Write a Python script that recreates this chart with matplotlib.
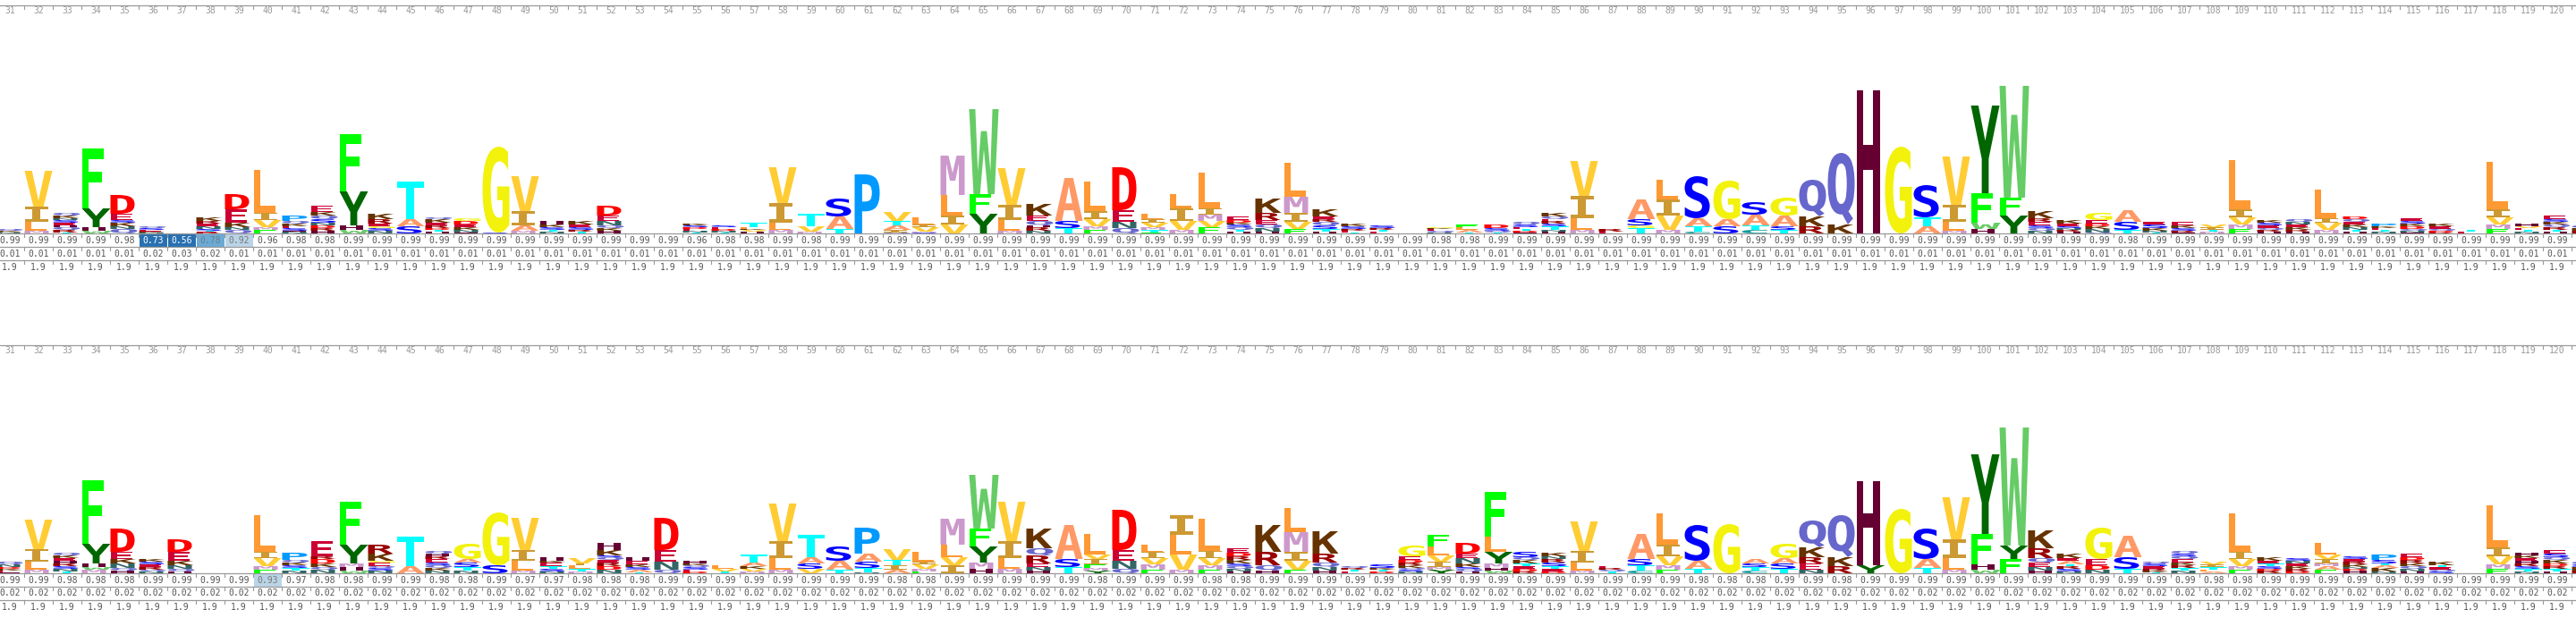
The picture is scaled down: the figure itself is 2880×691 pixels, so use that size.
import matplotlib
matplotlib.use("Agg")
import matplotlib.pyplot as plt
from matplotlib.font_manager import FontProperties
from matplotlib.textpath import TextPath
from matplotlib.patches import PathPatch, Rectangle
from matplotlib.transforms import Affine2D

# model positions shown in the window (121 is cut by the right edge)
positions = list(range(31, 122))
last_labelled = 120

# letter stacks, bottom to top, "letter + height in px"
top_logo = [
    "N1.5 K1.5 Q2", "M3 L10 I17 V40", "T1 R3 Q3 H2 E3 S3 N2 K3 Q3", "W3 H4 Y21 F67",
    "Q5 N3 K4 S3 E7 D21", "N1 K1.5 E1.5 S2 Q2", "", "R1 E1 T1 S2 N3 E3 R3 K4",
    "Q4 N3 K5 E15 D17", "F4 M3 V8 I8 L48", "N2 H1 S3 E2 K3 Q3 P6", "H3 R3 D3 N3 S4 Q4 K4 E7",
    "W4 H5 Y38 F64", "N3 S3 G2 E3 R5 K6", "S8 A8 T42", "H2 T2 D2 R3 E3 K4 Q2",
    "H1 N3 K3 E3 D4 G3", "S1 G96", "M3 A6 I16 V39", "N2 T2 S3 K3 H4",
    "T2 R2 S3 E3 K4", "H3 K3 Q3 N5 E6 D11", "", "",
    "T1 N2 E2 D2 S2 K2", "T1 N2 D2 E2 S2", "H2 V2 K1 L2 T5", "M4 L8 I22 V40",
    "M2 V6 T14", "T5 A14 S20", "P66", "Q1 I3 A5 T5 V10",
    "S1 M1 V5 I3 L8", "V10 I10 L23 M44", "Y22 F22 W95", "M3 L12 I17 V41",
    "N3 R4 H2 Q5 E6 K13", "T6 S8 A48", "F4 M4 V8 I9 L33", "Q6 N7 E13 D48",
    "F1 T3 M3 V5 I4 L6", "M4 V10 I14 L16", "F7 V7 M7 I7 L40", "H2 T2 Q3 S3 K2 D3 E4",
    "H2 N4 Q4 E5 R8 K16", "F5 V8 I10 M18 L38", "H2 T3 S4 Q4 R3 E3 K8", "T1 E2 R2 S3 K3",
    "E2 T2 R2 S3", "", "N1 Q2 E2 K1 G1", "T1 A3 L3 F3",
    "T1 Q2 S3 D4", "H1 D2 T2 E2 S3 Q3", "H2 N2 T4 S3 R3 E2 Q3 K4", "M4 L13 I25 V39",
    "E2 R3", "T6 G3 S7 A22", "M4 V16 I18 L22", "C2 T6 A9 S47",
    "S8 A8 G43", "C4 T5 A12 S14", "T4 S4 A12 G20", "R8 K11 Q41",
    "K10 Q80", "H160", "G97", "A8 T10 S36",
    "M3 L10 I19 V54", "H5 W7 F33 Y98", "Y20 F20 W125", "N3 Q3 S3 E4 R4 K8",
    "H2 R2 N2 S2 E3 K4", "Q1 N4 K3 D3 E4 G8", "T4 S9 A13", "T1 N2 K3 S4 E3",
    "H1 R2 S3 K3 E4", "M2 T2 I3 V3", "F5 M5 V8 I9 L55", "H2 R2 Q2 E3 S3 K3",
    "H2 R2 K3 E3 N3 Q3", "M4 V8 I5 L32", "H2 T2 N3 K3 E3 Q3 D3", "N2 T2 E2 K2 P3",
    "H1 N2 Q2 D3 K3 S3 E3", "R1 D2 Q2 E3 K3", "E2 T2", "F5 M5 V8 I9 L53",
    "N2 T2 E2 V2 H3", "H2 T2 R3 Q3 K3 S3 E4", "R3 K3 Q3",
]

bottom_logo = [
    "H1 E2 K2 D2 N3 Q3", "M4 L9 I14 V33", "T2 N3 S3 R3 H3 E3 K3 Q3", "M4 W3 H4 Y22 F71",
    "H3 Q3 N5 K5 E8 D26", "N2 Q2 R3 E3 S3 K3", "H2 Q3 N4 K5 E10 D14", "",
    "", "F4 M4 V9 I7 L41", "N3 T3 S3 K3 Q3 P8", "N4 Q3 K4 D5 R3 E17",
    "W3 H4 M4 Y21 F48", "N3 S3 Q2 E4 G2 K8 R10", "A8 T33", "N3 K3 Q3 S3 E4 R3 H3 Q3",
    "N3 T4 S5 A4 G17", "S9 G59", "M3 L11 I12 V36", "N2 S3 T3 E4 K2 H4",
    "M2 T3 L4 I2 V6", "N4 D4 R4 E3 Q3 S2 K6 H8", "T1 A3 S3 K3 E4 H4", "Q4 N9 E13 D36",
    "D2 E2 S3 Q2 K2 H3", "T2 V3 L4", "M2 V3 K3 A4 T9", "M4 L13 I19 V42",
    "V5 S6 A7 T25", "T4 A10 S16", "N1 T5 S7 A9 P29", "A4 I5 T6 V12",
    "F2 M3 V5 I3 L11", "I9 V9 L14 M29", "H5 M7 Y18 F20 W60", "M5 L12 I19 V44",
    "H3 N4 E4 R9 Q8 K22", "T7 S9 A38", "Y3 M3 F4 I6 V5 L23", "Q5 N9 E12 D45",
    "F4 M6 V7 I7 L8", "M4 V17 L22 I22", "F4 M5 V8 I8 L36", "H2 N3 Q3 S3 K4 R4 D4 E5",
    "H3 Q6 R15 K30", "F4 V10 I10 M22 L27", "H3 N4 Q5 R10 K25", "E2 T2 R2 Q2",
    "D2 T2 K2 S4", "N2 S2 Q2 K3 R3 D3 E4 G12", "Y4 M3 I6 V7 L10 F13", "H2 Q3 S2 K4 N6 E5 D12",
    "W3 H3 M5 Y13 L17 F50", "R2 D3 E3 T3 K4 Q3 S6", "D2 E3 T3 S4 R4 N3 K4", "M3 L9 I13 V33",
    "T2 Q2 R2 E2", "C3 T6 S7 A28", "F4 M5 V10 I13 L35", "T5 A9 S40",
    "G55", "C3 T4 S4 A5", "T5 S6 A6 G16", "N4 E7 R7 K11 Q30",
    "R8 K10 Q47", "Y9 H94", "G72", "T6 A10 S34",
    "M4 L13 I21 V47", "W4 H6 F34 Y89", "F16 Y15 W132", "H3 N4 E5 Q5 R11 K20",
    "N2 S3 R3 T2 A4 E3 K5", "N4 D5 E7 G35", "T5 S13 A24", "T1 K2 R2 E3 S3 Q2",
    "N3 T3 R3 K3 E4 Q3 S3 Q3", "A2 L2 T3 I3 V3", "F4 M4 V8 I8 L43", "R3 D2 S3 T3 E3 K4",
    "D2 R3 K3 E3 N3 S3", "F4 A4 M3 I5 V5 L13", "H3 D2 N2 K3 R3 E3 S3", "N2 K4 A3 T2 S4 P6",
    "H2 N3 Q3 K3 R4 D3 E4", "S2 Q2 E3 T2 K4", "", "F5 M5 V9 I10 L47",
    "N2 T3 S3 R3 H3 E3 K3 H3", "H2 T3 R3 D3 K4 Q3 S4 E4", "R3 K4 S3 Q3",
]

# occupancy row
top_occupancy = [
    0.99, 0.99, 0.99, 0.99, 0.98, 0.73, 0.56, 0.78, 0.92, 0.96,
    0.98, 0.98, 0.99, 0.99, 0.99, 0.99, 0.99, 0.99, 0.99, 0.99,
    0.99, 0.99, 0.99, 0.99, 0.96, 0.98, 0.98, 0.99, 0.98, 0.99,
    0.99, 0.99, 0.99, 0.99, 0.99, 0.99, 0.99, 0.99, 0.99, 0.99,
    0.99, 0.99, 0.99, 0.99, 0.99, 0.99, 0.99, 0.99, 0.99, 0.99,
    0.98, 0.98, 0.99, 0.99, 0.99, 0.99, 0.99, 0.99, 0.99, 0.99,
    0.99, 0.99, 0.99, 0.99, 0.99, 0.99, 0.99, 0.99, 0.99, 0.99,
    0.99, 0.99, 0.99, 0.99, 0.98, 0.99, 0.99, 0.99, 0.99, 0.99,
    0.99, 0.99, 0.99, 0.99, 0.99, 0.99, 0.99, 0.99, 0.99, 0.99,
    0.99,
]
bottom_occupancy = [
    0.99, 0.99, 0.98, 0.98, 0.98, 0.99, 0.99, 0.99, 0.99, 0.93,
    0.97, 0.98, 0.98, 0.99, 0.99, 0.98, 0.98, 0.99, 0.97, 0.97,
    0.98, 0.98, 0.98, 0.99, 0.99, 0.99, 0.99, 0.99, 0.99, 0.99,
    0.99, 0.98, 0.98, 0.99, 0.99, 0.99, 0.99, 0.99, 0.98, 0.99,
    0.99, 0.99, 0.98, 0.98, 0.99, 0.99, 0.99, 0.99, 0.99, 0.99,
    0.99, 0.99, 0.99, 0.99, 0.99, 0.99, 0.99, 0.99, 0.99, 0.98,
    0.98, 0.98, 0.99, 0.99, 0.98, 0.99, 0.99, 0.99, 0.99, 0.99,
    0.99, 0.99, 0.99, 0.99, 0.99, 0.99, 0.99, 0.98, 0.98, 0.99,
    0.99, 0.99, 0.99, 0.99, 0.99, 0.99, 0.99, 0.99, 0.99, 0.99,
    0.99,
]

# insert probability row
top_insert_prob = [
    0.01, 0.01, 0.01, 0.01, 0.01, 0.02, 0.03, 0.02, 0.01, 0.01,
    0.01, 0.01, 0.01, 0.01, 0.01, 0.01, 0.01, 0.01, 0.01, 0.01,
    0.01, 0.01, 0.01, 0.01, 0.01, 0.01, 0.01, 0.01, 0.01, 0.01,
    0.01, 0.01, 0.01, 0.01, 0.01, 0.01, 0.01, 0.01, 0.01, 0.01,
    0.01, 0.01, 0.01, 0.01, 0.01, 0.01, 0.01, 0.01, 0.01, 0.01,
    0.01, 0.01, 0.01, 0.01, 0.01, 0.01, 0.01, 0.01, 0.01, 0.01,
    0.01, 0.01, 0.01, 0.01, 0.01, 0.01, 0.01, 0.01, 0.01, 0.01,
    0.01, 0.01, 0.01, 0.01, 0.01, 0.01, 0.01, 0.01, 0.01, 0.01,
    0.01, 0.01, 0.01, 0.01, 0.01, 0.01, 0.01, 0.01, 0.01, 0.01,
    0.01,
]
bottom_insert_prob = [0.02] * len(positions)

# insert length row
top_insert_len = [1.9] * len(positions)
bottom_insert_len = [1.9] * len(positions)

AA_COLORS = {
    'A': '#FF9966', 'C': '#009999', 'D': '#FF0000', 'E': '#CC0033', 'F': '#00FF00',
    'G': '#F2F20C', 'H': '#660033', 'I': '#CC9933', 'K': '#663300', 'L': '#FF9933',
    'M': '#CC99CC', 'N': '#336666', 'P': '#0099FF', 'Q': '#6666CC', 'R': '#990000',
    'S': '#0000FF', 'T': '#00FFFF', 'V': '#FFCC33', 'W': '#66CC66', 'Y': '#006600',
}
# drawn glyph widths in px (letters sit on the left edge of the column)
LETTER_W = {
    'A': 31, 'C': 28, 'D': 27, 'E': 24, 'F': 24, 'G': 30, 'H': 26, 'I': 26, 'K': 29,
    'L': 24, 'M': 27, 'N': 27, 'P': 28, 'Q': 30, 'R': 28, 'S': 28, 'T': 30, 'V': 31,
    'W': 33, 'Y': 32,
}

COL_W = 32
FIRST_CENTER = 11
W_PX, H_PX = 2880, 691
GRID = '#9a9a9a'

fig = plt.figure(figsize=(W_PX / 100, H_PX / 100), dpi=100)
ax = fig.add_axes([0, 0, 1, 1])
ax.set_xlim(0, W_PX)
ax.set_ylim(H_PX, 0)
ax.axis('off')

font = FontProperties(family='DejaVu Sans Mono', weight='bold')
mono = FontProperties(family='DejaVu Sans Mono', size=7)
glyph_cache = {}


def draw_letter(letter, left, base, h):
    if letter not in glyph_cache:
        p = TextPath((0, 0), letter, size=100, prop=font)
        glyph_cache[letter] = (p, p.get_extents())
    path, ext = glyph_cache[letter]
    w = LETTER_W[letter]
    t = (Affine2D().translate(-ext.x0, -ext.y0)
         .scale(w / ext.width, -h / ext.height)
         .translate(left, base))
    ax.add_patch(PathPatch(t.transform_path(path), fc=AA_COLORS[letter], lw=0))


def cell_color(v):
    if v <= 0.75:
        return '#2870b1', 'white'
    if v <= 0.85:
        return '#6aaad5', '#6b7f8f'
    if v <= 0.95:
        return '#bad4e7', '#777777'
    return None, '#555555'


def draw_panel(y0, stacks, occ, ins_p, ins_l):
    ruler = y0 + 6
    base = y0 + 261
    ax.plot([0, W_PX], [ruler, ruler], color=GRID, lw=0.9)
    row_tops = [base, base + 15, base + 30]
    for rt in row_tops:
        ax.plot([0, W_PX], [rt, rt], color=GRID, lw=0.9)

    for i, pos in enumerate(positions):
        cx = FIRST_CENTER + COL_W * i
        left = cx - COL_W / 2
        labelled = pos <= last_labelled
        # ruler
        ax.plot([left, left], [ruler, ruler + 4], color=GRID, lw=0.8)
        if labelled:
            ax.text(cx, ruler + 6, str(pos), ha='center', va='center',
                    fontproperties=mono, color='#999999')

        # letter stack
        cum = 0.0
        for tok in stacks[i].split():
            h = float(tok[1:])
            draw_letter(tok[0], left + 0.5, base - cum, h)
            cum += h

        # value rows
        bg, fg = cell_color(occ[i])
        if bg:
            ax.add_patch(Rectangle((left + 0.5, base + 0.5), COL_W - 1, 14.5,
                                   fc=bg, lw=0))
        vals = [(f"{occ[i]:.2f}", fg), (f"{ins_p[i]:.2f}", '#555555'),
                (f"{ins_l[i]:.1f}", '#555555')]
        for rt, (s, c) in zip(row_tops, vals):
            ax.plot([left, left], [rt, rt + 4], color=GRID, lw=0.8)
            if labelled:
                ax.text(cx, rt + 7.5, s, ha='center', va='center',
                        fontproperties=mono, color=c)


draw_panel(0, top_logo, top_occupancy, top_insert_prob, top_insert_len)
draw_panel(380, bottom_logo, bottom_occupancy, bottom_insert_prob, bottom_insert_len)

fig.savefig('out.png', dpi=100)
